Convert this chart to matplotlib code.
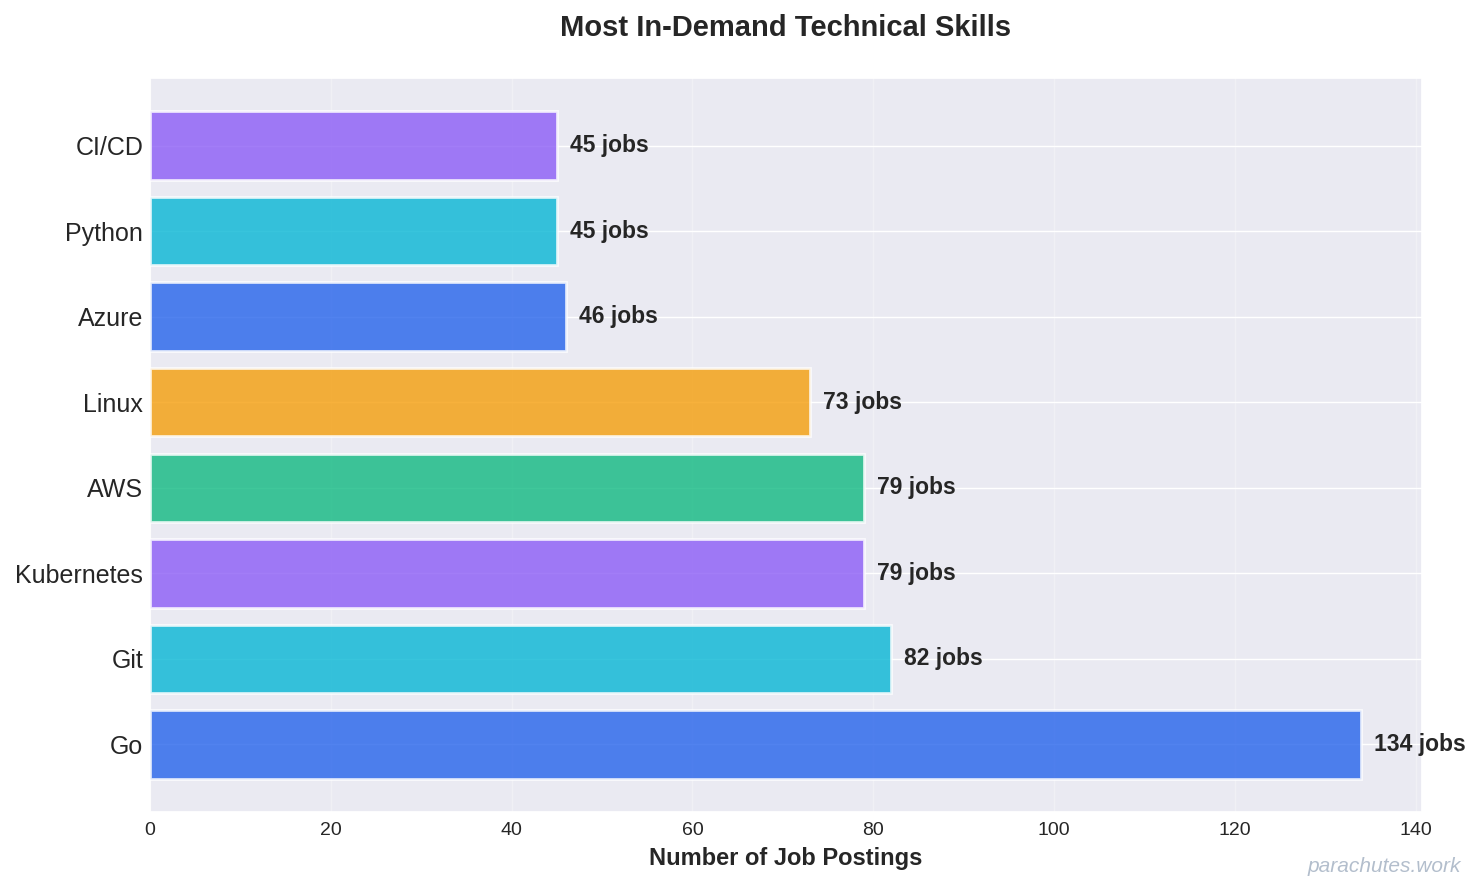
"""
Horizontal bar chart of the most in-demand technical skills.
"""

import matplotlib
matplotlib.use("Agg")
import matplotlib.pyplot as plt
import seaborn as sns

sns.set_theme(style="darkgrid")
plt.rcParams["font.family"] = ["Liberation Sans", "DejaVu Sans"]

skills = ["Go", "Git", "Kubernetes", "AWS", "Linux", "Azure", "Python", "CI/CD"]
job_counts = [134, 82, 79, 79, 73, 46, 45, 45]
bar_colors = ["#2563EB", "#06B6D4", "#8B5CF6", "#10B981",
              "#F59E0B", "#2563EB", "#06B6D4", "#8B5CF6"]
x_ticks = [0, 20, 40, 60, 80, 100, 120, 140]

fig, ax = plt.subplots(figsize=(14.8, 8.91), dpi=100)
fig.subplots_adjust(left=0.1014, right=0.9608, top=0.9125, bottom=0.0887)

bars = ax.barh(skills, job_counts, color=bar_colors, alpha=0.8,
               edgecolor="white", linewidth=2, height=0.8, zorder=3)

for bar, val in zip(bars, job_counts):
    ax.text(bar.get_width() + 1.4, bar.get_y() + bar.get_height() / 2,
            f"{val} jobs", va="center", ha="left", fontsize=16.5,
            fontweight="bold", color="#262626", zorder=4)

ax.set_xlim(0, max(job_counts) * 1.05)
ax.set_xticks(x_ticks)
ax.grid(axis="x", alpha=0.3)
ax.tick_params(axis="y", labelsize=18, colors="#262626", length=0, pad=5)
ax.tick_params(axis="x", labelsize=14, colors="#262626", length=0, pad=7)
ax.set_xlabel("Number of Job Postings", fontsize=17, fontweight="bold",
              color="#262626", labelpad=6)
ax.set_title("Most In-Demand Technical Skills", fontsize=21,
             fontweight="bold", color="#262626", pad=30)

fig.text(0.987, 0.028, "parachutes.work", ha="right", va="center",
         fontsize=15, style="italic", color="#A0AEC0", alpha=0.8)

fig.savefig("out.png", dpi=100)
